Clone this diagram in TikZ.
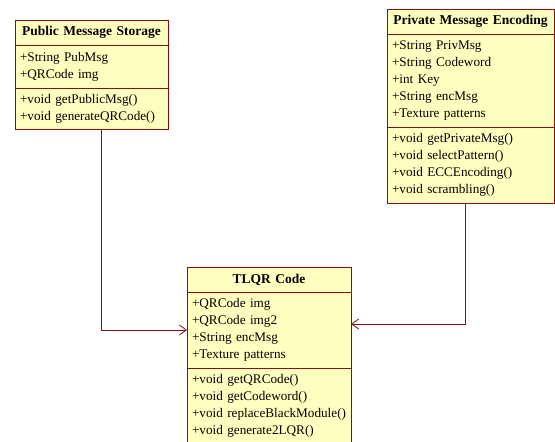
\documentclass[tikz,border=0pt]{standalone}
\usepackage{fontspec}
\setmainfont{Liberation Serif}
\usetikzlibrary{chains,arrows.meta,positioning}
\definecolor{umlborder}{RGB}{135,15,15}
\definecolor{umlfill}{RGB}{255,255,192}
\newcommand{\umlfont}{\fontsize{13.2}{17}\selectfont\hyphenpenalty=10000\relax}

\begin{document}
\begin{tikzpicture}[x=1pt,y=-1pt]
  \tikzset{
    every node/.style={
      on chain,
      draw=umlborder,
      fill=umlfill,
      line width=0.8pt,
      inner xsep=5pt,
      inner ysep=2pt,
      outer sep=0pt,
      align=left,
      font=\umlfont
    },
    classtitle/.style={
      align=center,
      minimum height=25pt,
      font=\fontsize{13.5}{17}\selectfont\bfseries
    },
    line/.style={
      draw=umlborder,
      line width=0.8pt,
      -{Straight Barb[length=7pt,width=10pt]}
    }
  }
  \useasboundingbox (0,0) rectangle (555,442);

  % Public Message Storage
  \begin{scope}[start chain=pub going below, node distance=0pt, text width=143pt]
  \node[classtitle, anchor=north west] (pubtitle) at (15,20) {Public Message Storage};
  \node[minimum height=43pt] (pubattr) {+String PubMsg\\+QRCode img};
  \node[minimum height=41pt] (pubmeth) {+void getPublicMsg()\\+void generateQRCode()};
  \end{scope}

  % Private Message Encoding
  \begin{scope}[start chain=priv going below, node distance=0pt, text width=157pt]
  \node[classtitle, anchor=north west] (privtitle) at (387,9) {Private Message Encoding};
  \node[minimum height=93pt] (privattr) {+String PrivMsg\\+String Codeword\\+int Key\\+String encMsg\\+Texture patterns};
  \node[minimum height=76pt] (privmeth) {+void getPrivateMsg()\\+void selectPattern()\\+void ECCEncoding()\\+void scrambling()};
  \end{scope}

  % TLQR Code
  \begin{scope}[start chain=tlqr going below, node distance=0pt, text width=154pt]
  \node[classtitle, anchor=north west] (tlqrtitle) at (187,267) {TLQR Code};
  \node[minimum height=76pt] (tlqrattr) {+QRCode img\\+QRCode img2\\+String encMsg\\+Texture patterns};
  \node[minimum height=76pt] (tlqrmeth) {+void getQRCode()\\+void getCodeword()\\+void~replaceBlackModule()\\+void generate2LQR()};
  \end{scope}

  \path[line] ([xshift=9.5pt]pubmeth.south) |- (tlqrattr.west);
  \path[line] ([xshift=-5pt]privmeth.south) |- ([yshift=6pt]tlqrattr.east);

\end{tikzpicture}
\end{document}
